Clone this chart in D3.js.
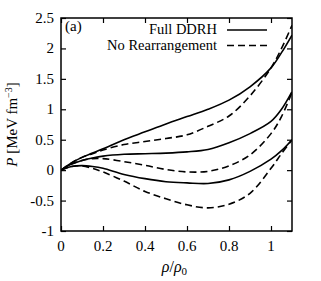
<!DOCTYPE html>
<html>
<head>
<meta charset="utf-8">
<script src="https://cdn.jsdelivr.net/npm/d3@7"></script>
<style>
  body { margin: 0; background: #fff; }
</style>
</head>
<body>
<svg id="chart"></svg>
<script>
// density grid (rho/rho0)
const rho = [0, 0.05, 0.1, 0.15, 0.2, 0.3, 0.4, 0.5, 0.6, 0.7, 0.8, 0.9, 1.0, 1.05, 1.1];

// pressure curves, three per model
const fullTop = [0, 0.12, 0.21, 0.28, 0.35, 0.50, 0.63, 0.76, 0.88, 1.00, 1.15, 1.37, 1.68, 1.93, 2.22];
const fullMid = [0, 0.10, 0.16, 0.20, 0.23, 0.26, 0.27, 0.28, 0.30, 0.34, 0.45, 0.60, 0.80, 1.00, 1.29];
const fullLow = [0, 0.06, 0.075, 0.06, 0.03, -0.07, -0.14, -0.19, -0.21, -0.22, -0.16, -0.02, 0.18, 0.32, 0.50];
const noRearTop = [0, 0.12, 0.21, 0.27, 0.33, 0.42, 0.47, 0.52, 0.58, 0.72, 0.89, 1.22, 1.68, 2.00, 2.38];
const noRearMid = [0, 0.10, 0.16, 0.19, 0.19, 0.14, 0.08, 0.01, -0.03, -0.02, 0.07, 0.25, 0.60, 0.88, 1.28];
const noRearLow = [0, 0.06, 0.07, 0.03, -0.03, -0.18, -0.35, -0.47, -0.57, -0.62, -0.56, -0.38, 0.03, 0.27, 0.50];

const xTicks = [0, 0.2, 0.4, 0.6, 0.8, 1];
const yTicks = [-1, -0.5, 0, 0.5, 1, 1.5, 2, 2.5];

const width = 321, height = 281;
const margin = { top: 18, right: 29, bottom: 50, left: 61 };
const serif = '"Liberation Serif", "DejaVu Serif", serif';

const svg = d3.select('#chart')
    .attr('width', width)
    .attr('height', height)
    .style('font-family', serif);

const x = d3.scaleLinear().domain([0, 1.1]).range([margin.left, width - margin.right]);
const y = d3.scaleLinear().domain([-1, 2.5]).range([height - margin.bottom, margin.top]);

// ticks on all four sides, pointing in
const tick = 5;
svg.append('g')
    .attr('transform', `translate(0,${y(-1)})`)
    .call(d3.axisTop(x).tickValues(xTicks).tickSize(tick).tickFormat(''))
    .call(g => g.select('.domain').remove());
svg.append('g')
    .attr('transform', `translate(0,${y(2.5)})`)
    .call(d3.axisBottom(x).tickValues(xTicks).tickSize(tick).tickFormat(''))
    .call(g => g.select('.domain').remove());
svg.append('g')
    .attr('transform', `translate(${x(0)},0)`)
    .call(d3.axisRight(y).tickValues(yTicks).tickSize(tick).tickFormat(''))
    .call(g => g.select('.domain').remove());
svg.append('g')
    .attr('transform', `translate(${x(1.1)},0)`)
    .call(d3.axisLeft(y).tickValues(yTicks).tickSize(tick).tickFormat(''))
    .call(g => g.select('.domain').remove());
svg.selectAll('.tick line').attr('stroke', '#000').attr('stroke-width', 1.2);

// tick labels
svg.append('g').selectAll('text')
    .data(xTicks).enter().append('text')
    .attr('x', d => x(d))
    .attr('y', y(-1) + 20)
    .attr('text-anchor', 'middle')
    .style('font-family', serif)
    .style('font-size', '15px')
    .text(d => d);
svg.append('g').selectAll('text')
    .data(yTicks).enter().append('text')
    .attr('x', x(0) - 7)
    .attr('y', d => y(d) + 5)
    .attr('text-anchor', 'end')
    .style('font-family', serif)
    .style('font-size', '15px')
    .text(d => d);

// curves
const line = d3.line()
    .x((d, i) => x(rho[i]))
    .y(d => y(d))
    .curve(d3.curveCatmullRom.alpha(0.5));

const series = [
    { v: fullTop, dash: null }, { v: fullMid, dash: null }, { v: fullLow, dash: null },
    { v: noRearTop, dash: '7,4' }, { v: noRearMid, dash: '7,4' }, { v: noRearLow, dash: '7,4' }
];

svg.append('clipPath').attr('id', 'clip')
    .append('rect')
    .attr('x', x(0)).attr('y', y(2.5))
    .attr('width', x(1.1) - x(0)).attr('height', y(-1) - y(2.5));

svg.append('g').attr('clip-path', 'url(#clip)')
    .selectAll('path')
    .data(series).enter().append('path')
    .attr('d', d => line(d.v))
    .attr('fill', 'none')
    .attr('stroke', '#000')
    .attr('stroke-width', 1.6)
    .attr('stroke-dasharray', d => d.dash);

// frame
svg.append('rect')
    .attr('x', x(0)).attr('y', y(2.5))
    .attr('width', x(1.1) - x(0)).attr('height', y(-1) - y(2.5))
    .attr('fill', 'none')
    .attr('stroke', '#000')
    .attr('stroke-width', 1.5);

// legend
const legend = [
    { label: 'Full DDRH', dash: null },
    { label: 'No Rearrangement', dash: '7,4' }
];
const lg = svg.append('g');
lg.selectAll('text')
    .data(legend).enter().append('text')
    .attr('x', 217)
    .attr('y', (d, i) => 34 + i * 16)
    .attr('text-anchor', 'end')
    .style('font-family', serif)
    .style('font-size', '14.5px')
    .text(d => d.label);
lg.selectAll('line')
    .data(legend).enter().append('line')
    .attr('x1', 227).attr('x2', 267)
    .attr('y1', (d, i) => 30 + i * 15.5)
    .attr('y2', (d, i) => 30 + i * 15.5)
    .attr('stroke', '#000')
    .attr('stroke-width', 1.6)
    .attr('stroke-dasharray', d => d.dash);

svg.append('text')
    .attr('x', 65).attr('y', 31)
    .style('font-family', serif)
    .style('font-size', '15px')
    .text('(a)');

// axis titles
const yt = svg.append('text')
    .attr('transform', `translate(17,${(y(2.5) + y(-1)) / 2}) rotate(-90)`)
    .attr('text-anchor', 'middle')
    .style('font-family', serif)
    .style('font-size', '15px');
yt.append('tspan').style('font-style', 'italic').text('P');
yt.append('tspan').text(' [MeV fm');
yt.append('tspan').attr('dy', -5).style('font-size', '10px').text('−3');
yt.append('tspan').attr('dy', 5).text(']');

const xt = svg.append('text')
    .attr('x', x(0.54)).attr('y', 272)
    .attr('text-anchor', 'middle')
    .style('font-family', serif)
    .style('font-size', '16px');
xt.append('tspan').style('font-style', 'italic').text('ρ');
xt.append('tspan').text('/');
xt.append('tspan').style('font-style', 'italic').text('ρ');
xt.append('tspan').attr('dy', 3).style('font-size', '11px').text('0');
</script>
</body>
</html>
